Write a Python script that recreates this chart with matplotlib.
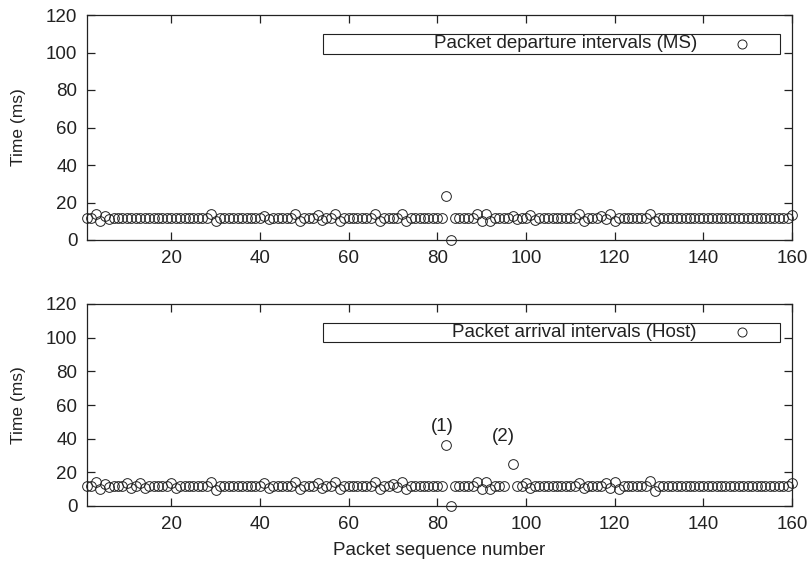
import numpy as np
import matplotlib
matplotlib.use("Agg")
import matplotlib.pyplot as plt
from matplotlib.patches import Rectangle

matplotlib.rcParams.update({'font.size': 13.5,
                            'font.family': ['Liberation Sans', 'DejaVu Sans']})

# packet sequence numbers
seq = np.arange(1, 161)

# departure intervals at the MS (ms)
departure = [
    12, 12, 14, 10, 13, 11, 12, 12, 12, 12, 12, 12, 12, 12, 12, 12, 12, 12, 12, 12,
    12, 12, 12, 12, 12, 12, 12, 12, 14, 10, 12, 12, 12, 12, 12, 12, 12, 12, 12, 12,
    13, 11, 12, 12, 12, 12, 12, 14, 10, 12, 12, 12, 13.5, 10.5, 12, 12, 14, 10, 12, 12,
    12, 12, 12, 12, 12, 14, 10, 12, 12, 12, 12, 14, 10, 12, 12, 12, 12, 12, 12, 12,
    12, 23.5, 0, 12, 12, 12, 12, 12, 14, 10, 14, 10, 12, 12, 12, 12, 13, 11, 12, 12,
    13.5, 10.5, 12, 12, 12, 12, 12, 12, 12, 12, 12, 14, 10, 12, 12, 12, 13, 11, 14, 10,
    12, 12, 12, 12, 12, 12, 12, 14, 10, 12, 12, 12, 12, 12, 12, 12, 12, 12, 12, 12,
    12, 12, 12, 12, 12, 12, 12, 12, 12, 12, 12, 12, 12, 12, 12, 12, 12, 12, 12, 13.5,
]

# arrival intervals at the host (ms), 96 lost
arrival = [
    12, 12, 14, 10, 13, 11, 12, 12, 12, 13.5, 10.5, 12, 13.5, 10.5, 12, 12, 12, 12, 12, 13.5,
    10.5, 12, 12, 12, 12, 12, 12, 12, 14.5, 9.5, 12, 12, 12, 12, 12, 12, 12, 12, 12, 12,
    13.5, 10.5, 12, 12, 12, 12, 12, 14, 10, 12, 12, 12, 13.5, 10.5, 12, 12, 14, 10, 12, 12,
    12, 12, 12, 12, 12, 14, 10, 12, 12, 13, 11, 14, 10, 12, 12, 12, 12, 12, 12, 12,
    12, 36, 0, 12, 12, 12, 12, 12, 14, 10, 14, 10, 12, 12, 12, np.nan, 25, 12, 12, 13.5,
    10.5, 12, 12, 12, 12, 12, 12, 12, 12, 12, 12, 13.5, 10.5, 12, 12, 12, 12, 13.5, 10.5, 14,
    10, 12, 12, 12, 12, 12, 12, 15, 9, 12, 12, 12, 12, 12, 12, 12, 12, 12, 12, 12,
    12, 12, 12, 12, 12, 12, 12, 12, 12, 12, 12, 12, 12, 12, 12, 12, 12, 12, 12, 13.5,
]

labels = ["Packet departure intervals (MS)", "Packet arrival intervals (Host)"]
notes = [(81.2, 47.2, "(1)"), (95.0, 41.2, "(2)")]

INK = "#222222"


def style_axis(ax):
    ax.set_xlim(1, 160)
    ax.set_ylim(0, 120)
    ax.set_xticks(np.arange(20, 161, 20))
    ax.set_yticks(np.arange(0, 121, 20))
    ax.tick_params(direction='in', length=6, width=0.9, colors=INK,
                   top=True, right=True, labelsize=13.5)
    ax.tick_params(axis='x', pad=7)
    ax.tick_params(axis='y', pad=7)
    for s in ax.spines.values():
        s.set_linewidth(0.9)
        s.set_color(INK)
    ax.set_ylabel("Time (ms)", color=INK, fontsize=12.5)
    ax.yaxis.set_label_coords(-0.087, 0.5)


def key_box(ax, text, top, bottom):
    ax.add_patch(Rectangle((0.335, bottom), 0.648, top - bottom,
                           transform=ax.transAxes, fill=False,
                           edgecolor=INK, linewidth=0.8, clip_on=False))
    ax.text(0.865, (top + bottom) / 2, text, transform=ax.transAxes,
            ha='right', va='center', color=INK)
    ax.plot([0.929], [(top + bottom) / 2], transform=ax.transAxes,
            marker='o', ms=6.5, mfc='none', mec=INK, mew=0.7, ls='none')


fig = plt.figure(figsize=(8.12, 5.65), dpi=100)
ax1 = fig.add_axes([87/812, 1 - 240/565, 705/812, 225/565])
ax2 = fig.add_axes([87/812, 1 - 506/565, 705/812, 202/565])

for ax, vals in ((ax1, departure), (ax2, arrival)):
    ax.plot(seq, vals, ls='none', marker='o', ms=7, mfc='none',
            mec=INK, mew=0.7, clip_on=False)
    style_axis(ax)

key_box(ax1, labels[0], 0.916, 0.827)
key_box(ax2, labels[1], 0.906, 0.812)

for x, y, t in notes:
    ax2.text(x, y, t, ha='center', va='center', color=INK)

ax2.set_xlabel("Packet sequence number", color=INK, labelpad=7)

fig.savefig("out.png", dpi=100)
